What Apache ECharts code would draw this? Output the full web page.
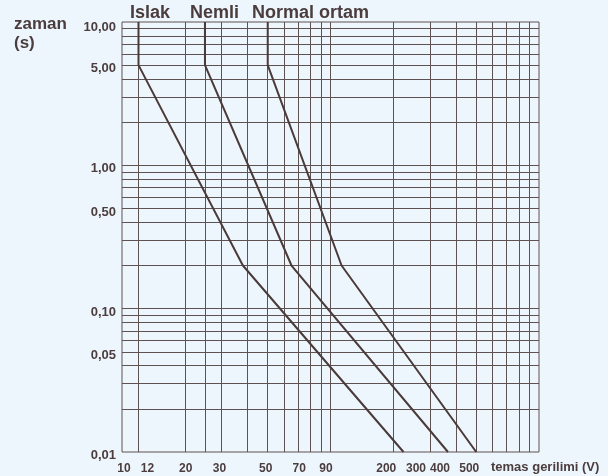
<!DOCTYPE html>
<html>
<head>
<meta charset="utf-8">
<script src="https://cdn.jsdelivr.net/npm/echarts@6/dist/echarts.min.js"></script>
<style>
html,body{margin:0;padding:0;background:#eef6fd;}
#chart{width:608px;height:476px;}
</style>
</head>
<body>
<div id="chart"></div>
<script>
// ---- data ----
const curveNames = ['Islak', 'Nemli', 'Normal ortam'];
const islakVoltage = [12, 12, 38, 224];
const islakTime    = [10, 5, 0.2, 0.01];
const nemliVoltage = [25, 25, 65, 366];
const nemliTime    = [10, 5, 0.2, 0.01];
const normalVoltage = [50, 50, 113, 500];
const normalTime    = [10, 5, 0.2, 0.01];

const xTickLabels = [10, 12, 20, 30, 50, 70, 90, 200, 300, 400, 500];
const yTickLabels = [0.01, 0.05, 0.1, 0.5, 1, 5, 10];
const xGridValues = [12, 20, 25, 30, 40, 50, 60, 70, 80, 90, 100, 200, 300, 400, 500, 600, 700, 800, 900];
const yGridValues = [0.02, 0.03, 0.04, 0.05, 0.06, 0.07, 0.08, 0.09,
                     0.1, 0.2, 0.3, 0.4, 0.5, 0.6, 0.7, 0.8, 0.9,
                     1, 2, 3, 4, 5, 6, 7, 8, 9];

// ---- styles ----
const ink = '#4b3d3d';
const gridInk = '#5e5151';
const font = "'Liberation Sans', Arial, Helvetica, sans-serif";
// horizontal nudge of x tick labels (px), style only
const xLabelShift = {10: 2, 12: 9, 20: 1, 30: -2, 50: -2, 70: 1, 90: 5, 200: -7, 300: -14, 400: -16, 500: -7};

const xRich = {};
Object.keys(xLabelShift).forEach(k => {
  const s = xLabelShift[k];
  xRich['v' + k] = {
    fontSize: 12, fontWeight: 'bold', color: ink, fontFamily: font,
    padding: s >= 0 ? [0, 0, 0, 2 * s] : [0, -2 * s, 0, 0]
  };
});

function pairs(xs, ys) { return xs.map((x, i) => [x, ys[i]]); }

const chart = echarts.init(document.getElementById('chart'), null, {renderer: 'canvas'});

const curveStyle = {color: '#4a3a3a', width: 2};

chart.setOption({
  backgroundColor: '#eef6fd',
  animation: false,
  grid: {
    left: 122, top: 22, width: 417, height: 430,
    show: true, borderColor: gridInk, borderWidth: 1, backgroundColor: 'transparent'
  },
  xAxis: {
    type: 'log', logBase: 10, min: 10, max: 1000,
    axisLine: {show: false},
    axisTick: {show: false},
    splitLine: {show: false},
    minorSplitLine: {show: false},
    axisLabel: {
      customValues: xTickLabels,
      margin: 11,
      formatter: function (v) {
        const r = Math.round(v);
        return '{v' + r + '|' + r + '}';
      },
      rich: xRich
    }
  },
  yAxis: {
    type: 'log', logBase: 10, min: 0.01, max: 10,
    axisLine: {show: false},
    axisTick: {show: false},
    splitLine: {show: false},
    axisLabel: {
      customValues: yTickLabels,
      margin: 6,
      formatter: function (v) {
        const txt = (Math.round(v * 100) / 100).toFixed(2).replace('.', ',');
        return (v > 9 ? '{top|' : '{n|') + txt + '}';
      },
      rich: {
        n: {fontSize: 13, fontWeight: 'bold', color: ink, fontFamily: font, padding: [7, 0, 0, 0]},
        top: {fontSize: 13, fontWeight: 'bold', color: ink, fontFamily: font, padding: [10, 0, 0, 0]}
      }
    }
  },
  series: [
    {
      name: 'grid', type: 'line', data: [], z: 1, silent: true,
      markLine: {
        silent: true, symbol: 'none', animation: false,
        label: {show: false},
        lineStyle: {color: gridInk, width: 1, type: 'solid'},
        emphasis: {disabled: true},
        data: xGridValues.map(v => ({xAxis: v})).concat(yGridValues.map(v => ({yAxis: v})))
      }
    },
    {name: curveNames[0], type: 'line', z: 5, symbol: 'none', data: pairs(islakVoltage, islakTime), lineStyle: curveStyle},
    {name: curveNames[1], type: 'line', z: 5, symbol: 'none', data: pairs(nemliVoltage, nemliTime), lineStyle: curveStyle},
    {name: curveNames[2], type: 'line', z: 5, symbol: 'none', data: pairs(normalVoltage, normalTime), lineStyle: curveStyle}
  ],
  graphic: [
    {type: 'text', left: 130, top: 4, style: {text: curveNames[0], font: 'bold 18px ' + font, fill: ink}},
    {type: 'text', left: 190, top: 4, style: {text: curveNames[1], font: 'bold 18px ' + font, fill: ink}},
    {type: 'text', left: 252, top: 4, style: {text: curveNames[2], font: 'bold 18px ' + font, fill: ink}},
    {type: 'text', left: 14, top: 16, style: {text: 'zaman', font: 'bold 17px ' + font, fill: ink}},
    {type: 'text', left: 14, top: 35, style: {text: '(s)', font: 'bold 17px ' + font, fill: ink}},
    {type: 'text', left: 491, top: 461, style: {text: 'temas gerilimi (V)', font: 'bold 13px ' + font, fill: ink}}
  ]
});
</script>
</body>
</html>
